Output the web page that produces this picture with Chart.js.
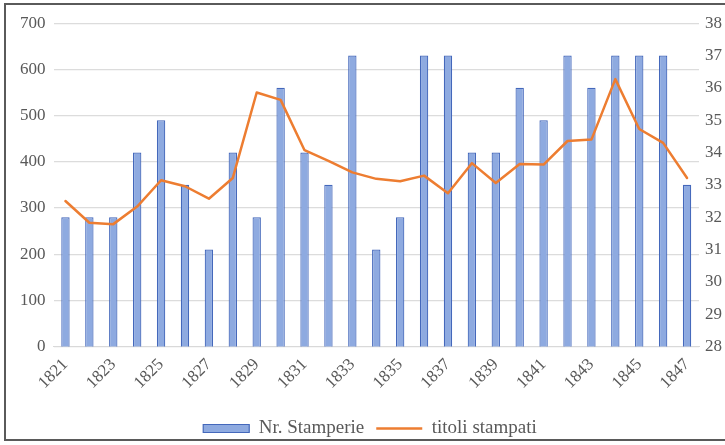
<!DOCTYPE html>
<html>
<head>
<meta charset="utf-8">
<script src="https://cdn.jsdelivr.net/npm/chart.js@4/dist/chart.umd.min.js"></script>
<style>
  html, body { margin: 0; padding: 0; background: #fff; overflow: hidden; }
  #frame {
    position: absolute; left: 4px; top: 3px;
    width: 730px; height: 438px;
    border: 2px solid #5a5a5a; box-sizing: border-box;
  }
  #wrap { position: absolute; left: 0; top: 0; width: 722px; height: 443px; }
</style>
</head>
<body>
<div id="frame"><div id="wrap"><canvas id="chart"></canvas></div></div>
<script>
// years on the x axis
const years = ['1821', '1822', '1823', '1824', '1825', '1826', '1827', '1828', '1829',
  '1830', '1831', '1832', '1833', '1834', '1835', '1836', '1837', '1838', '1839',
  '1840', '1841', '1842', '1843', '1844', '1845', '1846', '1847'];

// bars - right axis
const stamperie = [32, 32, 32, 34, 35, 33, 31, 34, 32, 36, 34, 33, 37, 31, 32, 37, 37,
  34, 34, 36, 35, 37, 36, 37, 37, 37, 33];

// line - left axis
const titoli = [315, 268, 265, 303, 360, 347, 320, 365, 550, 534, 425, 402, 377, 363,
  358, 370, 332, 397, 354, 395, 394, 445, 448, 579, 471, 441, 365];

const leftTicks = [0, 100, 200, 300, 400, 500, 600, 700];
const rightTicks = [28, 29, 30, 31, 32, 33, 34, 35, 36, 37, 38];

const grey = '#595959';
const serif = '"Liberation Serif", "DejaVu Serif", serif';

new Chart(document.getElementById('chart').getContext('2d'), {
  type: 'bar',
  data: {
    labels: years,
    datasets: [
      {
        label: 'Nr. Stamperie',
        data: stamperie,
        yAxisID: 'y1',
        backgroundColor: '#8eaae0',
        borderColor: '#4468bb',
        borderWidth: 1.2,
        barPercentage: 0.7,
        categoryPercentage: 0.5,
        pointStyle: 'rect',
        order: 2
      },
      {
        type: 'line',
        label: 'titoli stampati',
        data: titoli,
        yAxisID: 'y',
        borderColor: '#ed7d31',
        backgroundColor: '#ed7d31',
        borderWidth: 2.5,
        pointRadius: 0,
        tension: 0,
        borderCapStyle: 'round',
        borderJoinStyle: 'round',
        pointStyle: 'line',
        order: 1
      }
    ]
  },
  options: {
    responsive: true,
    maintainAspectRatio: false,
    animation: false,
    layout: { padding: { left: 6, right: 0, top: 18, bottom: 0 } },
    plugins: {
      tooltip: { enabled: false },
      legend: {
        position: 'bottom',
        labels: {
          color: grey,
          font: { family: serif, size: 19 },
          usePointStyle: true,
          pointStyleWidth: 46,
          boxHeight: 8,
          padding: 12,
          sort: (a, b) => a.datasetIndex - b.datasetIndex
        }
      }
    },
    scales: {
      x: {
        grid: { display: false },
        border: { display: true, color: '#d9d9d9' },
        afterFit: (axis) => { axis.height += 14; },
        ticks: {
          color: grey,
          font: { family: serif, size: 17 },
          autoSkip: false,
          maxRotation: 45,
          minRotation: 45,
          padding: 0,
          callback: function (val, i) {
            return i % 2 === 0 ? years[i] : '';
          }
        }
      },
      y: {
        position: 'left',
        min: 0,
        max: 700,
        afterBuildTicks: (axis) => { axis.ticks = leftTicks.map(v => ({ value: v })); },
        grid: { color: '#dcdcdc', lineWidth: 1.3, drawTicks: false },
        border: { display: false },
        ticks: { color: grey, font: { family: serif, size: 17 }, padding: 8 }
      },
      y1: {
        position: 'right',
        min: 28,
        max: 38,
        afterBuildTicks: (axis) => { axis.ticks = rightTicks.map(v => ({ value: v })); },
        grid: { display: false, drawTicks: false },
        border: { display: false },
        ticks: { color: grey, font: { family: serif, size: 17 }, padding: 6 }
      }
    }
  }
});
</script>
</body>
</html>
